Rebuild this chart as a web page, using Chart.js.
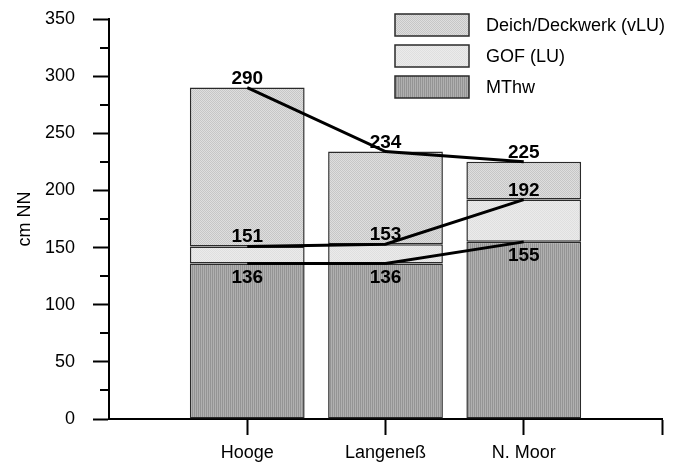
<!DOCTYPE html>
<html>
<head>
<meta charset="utf-8">
<script src="https://cdn.jsdelivr.net/npm/chart.js@4.4.0/dist/chart.umd.min.js"></script>
<style>
  html, body { margin: 0; background: #fff; }
  #wrap { width: 676px; height: 466px; }
</style>
</head>
<body>
<div id="wrap"><canvas id="chart"></canvas></div>
<script>
// --- Data (cm NN) ---
const sites = ['Hooge', 'Langeneß', 'N. Moor'];
const mthw = [136, 136, 155];      // MThw
const gofTop = [151, 153, 192];    // top of GOF (LU)
const deichTop = [290, 234, 225];  // top of Deich/Deckwerk (vLU)
const yMax = 350;
const yStep = 50;

const FONT = "'Liberation Sans', Arial, sans-serif";

// small stipple textures like the original print
function makePattern(a, b, stripes) {
    const p = document.createElement('canvas');
    p.width = 2; p.height = 2;
    const g = p.getContext('2d');
    g.fillStyle = a; g.fillRect(0, 0, 2, 2);
    g.fillStyle = b;
    if (stripes) {
        g.fillRect(0, 0, 1, 2);
    } else {
        g.fillRect(0, 0, 1, 1);
        g.fillRect(1, 1, 1, 1);
    }
    return p.getContext('2d').createPattern(p, 'repeat');
}

const patDeich = makePattern('#dedede', '#c6c6c6', false);
const patGof = makePattern('#ebebeb', '#dfdfdf', false);
const patMthw = makePattern('#b0b0b0', '#949494', true);

const barCommon = {
    type: 'bar',
    borderColor: '#2a2a2a',
    borderWidth: 1.5,
    borderSkipped: false,
    grouped: false,
    barPercentage: 0.83,
    categoryPercentage: 1,
    order: 2
};

const lineCommon = {
    type: 'line',
    borderColor: '#000',
    borderWidth: 3,
    pointRadius: 0,
    fill: false,
    tension: 0,
    order: 1
};

// value labels next to the line points
const valueLabels = {
    id: 'valueLabels',
    afterDatasetsDraw(chart) {
        const ctx = chart.ctx;
        ctx.save();
        ctx.font = 'bold 19px ' + FONT;
        ctx.fillStyle = '#000';
        ctx.textAlign = 'center';
        ctx.textBaseline = 'alphabetic';
        chart.data.datasets.forEach((ds, i) => {
            if (ds.type !== 'line') return;
            chart.getDatasetMeta(i).data.forEach((pt, j) => {
                const v = ds.data[j].y;
                const y = ds.labelBelow ? pt.y + 19 : pt.y - 4;
                ctx.fillText(String(v), pt.x, y);
            });
        });
        ctx.restore();
    }
};

// minor ticks on the y axis
const minorTicks = {
    id: 'minorTicks',
    afterDraw(chart) {
        const s = chart.scales.y;
        const ctx = chart.ctx;
        ctx.save();
        ctx.strokeStyle = '#000';
        ctx.lineWidth = 2;
        for (let v = yStep / 2; v < yMax; v += yStep) {
            const y = Math.round(s.getPixelForValue(v));
            ctx.beginPath();
            ctx.moveTo(s.right - 9, y);
            ctx.lineTo(s.right, y);
            ctx.stroke();
        }
        ctx.restore();
    }
};

// legend box in the upper right, topmost layer first
const boxLegend = {
    id: 'boxLegend',
    afterDraw(chart) {
        const ctx = chart.ctx;
        const bars = chart.data.datasets.filter(d => d.type === 'bar').reverse();
        ctx.save();
        ctx.font = '18px ' + FONT;
        ctx.textBaseline = 'middle';
        ctx.textAlign = 'left';
        bars.forEach((d, k) => {
            const x = 395, y = 14 + k * 31, w = 74, h = 22;
            ctx.fillStyle = d.backgroundColor;
            ctx.fillRect(x, y, w, h);
            ctx.strokeStyle = '#2a2a2a';
            ctx.lineWidth = 1.5;
            ctx.strokeRect(x, y, w, h);
            ctx.fillStyle = '#000';
            ctx.fillText(d.label, 486, y + h / 2 + 1);
        });
        ctx.restore();
    }
};

const ctx = document.getElementById('chart').getContext('2d');

new Chart(ctx, {
    data: {
        datasets: [
            Object.assign({}, barCommon, {
                label: 'MThw',
                data: sites.map((s, i) => ({ x: i + 1, y: [0, mthw[i]] })),
                backgroundColor: patMthw
            }),
            Object.assign({}, barCommon, {
                label: 'GOF (LU)',
                data: sites.map((s, i) => ({ x: i + 1, y: [mthw[i], gofTop[i]] })),
                backgroundColor: patGof
            }),
            Object.assign({}, barCommon, {
                label: 'Deich/Deckwerk (vLU)',
                data: sites.map((s, i) => ({ x: i + 1, y: [gofTop[i], deichTop[i]] })),
                backgroundColor: patDeich
            }),
            Object.assign({}, lineCommon, {
                label: 'top',
                data: sites.map((s, i) => ({ x: i + 1, y: deichTop[i] }))
            }),
            Object.assign({}, lineCommon, {
                label: 'gof',
                data: sites.map((s, i) => ({ x: i + 1, y: gofTop[i] }))
            }),
            Object.assign({}, lineCommon, {
                label: 'mthw',
                labelBelow: true,
                data: sites.map((s, i) => ({ x: i + 1, y: mthw[i] }))
            })
        ]
    },
    options: {
        responsive: true,
        maintainAspectRatio: false,
        animation: false,
        layout: { padding: { top: 19, right: 14, left: 0, bottom: 0 } },
        plugins: {
            legend: { display: false },
            tooltip: { enabled: false }
        },
        scales: {
            x: {
                type: 'linear',
                min: 0,
                max: sites.length + 1,
                offset: false,
                // one tick per site plus the closing tick at the right end
                afterBuildTicks: s => { s.ticks = [1, 2, 3, 4].map(v => ({ value: v })); },
                afterFit: s => { s.height = 47; s.paddingLeft = 0; s.paddingRight = 0; },
                grid: { offset: false, drawOnChartArea: false, tickLength: 16, tickWidth: 2, tickColor: '#000' },
                border: { display: true, color: '#000', width: 2 },
                ticks: {
                    autoSkip: false,
                    maxRotation: 0,
                    padding: 7,
                    color: '#000',
                    font: { family: FONT, size: 18 },
                    callback: v => sites[v - 1] || ''
                }
            },
            y: {
                min: 0,
                max: yMax,
                afterFit: s => { s.width = 109; s.paddingTop = 0; s.paddingBottom = 0; },
                grid: { drawOnChartArea: false, tickLength: 16, tickWidth: 2, tickColor: '#000' },
                border: { color: '#000', width: 2 },
                ticks: {
                    stepSize: yStep,
                    padding: 18,
                    color: '#000',
                    font: { family: FONT, size: 18 }
                },
                title: {
                    display: true,
                    text: 'cm NN',
                    color: '#000',
                    font: { family: FONT, size: 18 },
                    padding: { top: 14, bottom: 0 }
                }
            }
        }
    },
    plugins: [valueLabels, minorTicks, boxLegend]
});
</script>
</body>
</html>
